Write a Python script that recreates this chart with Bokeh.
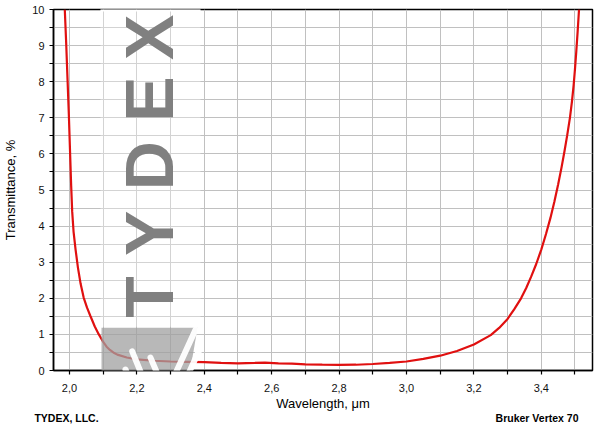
from bokeh.plotting import figure
from bokeh.models import (FixedTicker, CustomJSTickFormatter, Label, BoxAnnotation,
                          PolyAnnotation, Arrow, Range1d, LinearAxis)
from bokeh.embed import file_html
from bokeh.resources import INLINE
import math

# ---------------- data ----------------
wavelength_um = [1.986, 1.990, 1.994, 1.998, 2.002, 2.005, 2.008, 2.012, 2.018, 2.025,
                 2.033, 2.042, 2.052, 2.062, 2.075, 2.087, 2.100, 2.110, 2.120, 2.130,
                 2.142, 2.170, 2.200, 2.250, 2.300, 2.350, 2.400, 2.450, 2.500, 2.550,
                 2.580, 2.620, 2.660, 2.700, 2.750, 2.800, 2.850, 2.900, 2.950, 3.000,
                 3.050, 3.100, 3.150, 3.200, 3.250, 3.275, 3.300, 3.320, 3.340, 3.355,
                 3.370, 3.385, 3.400, 3.414, 3.427, 3.439, 3.450, 3.460, 3.469, 3.477,
                 3.485, 3.491, 3.496, 3.500, 3.504, 3.508, 3.512]
transmittance = [10.0, 9.1, 8.1, 7.1, 5.95, 5.1, 4.4, 3.85, 3.35, 2.85,
                 2.40, 2.02, 1.74, 1.51, 1.22, 1.00, 0.79, 0.66, 0.57, 0.50,
                 0.44, 0.36, 0.31, 0.27, 0.25, 0.24, 0.23, 0.21, 0.20, 0.21,
                 0.22, 0.20, 0.19, 0.17, 0.16, 0.155, 0.16, 0.18, 0.21, 0.25,
                 0.32, 0.41, 0.54, 0.72, 0.98, 1.18, 1.43, 1.70, 2.00, 2.28,
                 2.60, 2.95, 3.35, 3.78, 4.22, 4.68, 5.15, 5.62, 6.08, 6.52,
                 7.00, 7.45, 7.90, 8.35, 8.85, 9.40, 10.0]
x_major_ticks = [2.0, 2.2, 2.4, 2.6, 2.8, 3.0, 3.2, 3.4]
x_minor_ticks = [2.1, 2.3, 2.5, 2.7, 2.9, 3.1, 3.3, 3.5]
y_major_ticks = [0, 1, 2, 3, 4, 5, 6, 7, 8, 9, 10]
y_minor_ticks = [0.5, 1.5, 2.5, 3.5, 4.5, 5.5, 6.5, 7.5, 8.5, 9.5]
x_label = "Wavelength, \u03bcm"
y_label = "Transmittance, %"
notes = ["TYDEX, LLC.", "Bruker Vertex 70"]
note_centers_um = [1.991, 3.3875]
watermark = "TYDEX"

FONT = "Liberation Sans"
X0, X1 = 1.9525, 3.552
Y0, Y1 = 0.0, 10.0

W, H = 600, 426
BL, BR, BT, BB = 53, 8, 9, 54

p = figure(width=W, height=H, output_backend="svg", toolbar_location=None,
           x_range=Range1d(X0, X1), y_range=Range1d(Y0, Y1),
           min_border_left=BL, min_border_right=BR, min_border_top=BT, min_border_bottom=BB)
p.background_fill_color = "white"
p.border_fill_color = "white"
p.outline_line_color = "black"
p.outline_line_width = 1.5

# helpers: reference-pixel -> data coords, for decorative overlays only
fw = W - BL - BR
fh = H - BT - BB
def dx(px):
    return X0 + (px - BL) * (X1 - X0) / fw
def dy(py):
    return Y1 - (py - BT) * (Y1 - Y0) / fh

# axes
for ax in (p.xaxis[0], p.yaxis[0]):
    ax.axis_line_color = "black"
    ax.axis_line_width = 1.5
    ax.major_tick_line_color = "black"
    ax.minor_tick_line_color = "black"
    ax.major_tick_line_width = 1.2
    ax.minor_tick_line_width = 1.2
    ax.major_tick_in = 0
    ax.minor_tick_in = 0
    ax.major_tick_out = 4
    ax.minor_tick_out = 4
    ax.major_label_text_font = FONT
    ax.major_label_text_font_size = "11px"
    ax.major_label_text_color = "#111111"
    ax.axis_label_text_font = FONT
    ax.axis_label_text_font_style = "normal"
    ax.axis_label_text_font_size = "13px"
    ax.axis_label_text_color = "black"

p.xaxis.ticker = FixedTicker(ticks=x_major_ticks, minor_ticks=x_minor_ticks)
p.yaxis.ticker = FixedTicker(ticks=y_major_ticks, minor_ticks=y_minor_ticks)
p.xaxis.formatter = CustomJSTickFormatter(code="return tick.toFixed(1).replace('.', ',');")
p.xaxis.axis_label = x_label
p.yaxis.axis_label = y_label
p.xaxis.major_label_standoff = 9
p.xaxis.axis_label_standoff = 1
p.yaxis.major_label_standoff = 5
p.yaxis.axis_label_standoff = 11

# second (label-only) axis below, carrying the two footer notes
notes_axis = LinearAxis(ticker=FixedTicker(ticks=note_centers_um, minor_ticks=[]),
                        formatter=CustomJSTickFormatter(args=dict(labels=notes),
                                                        code="return labels[index];"),
                        axis_line_color=None, major_tick_line_color=None,
                        minor_tick_line_color=None, major_tick_out=0, major_tick_in=0,
                        major_label_standoff=-2,
                        major_label_text_font=FONT, major_label_text_font_style="bold",
                        major_label_text_font_size="10.5px", major_label_text_color="black")
p.add_layout(notes_axis, "below")

for g in (p.xgrid[0], p.ygrid[0]):
    g.grid_line_color = "#c0c0c0"
    g.grid_line_width = 1
    g.minor_grid_line_color = "#c0c0c0"
    g.minor_grid_line_width = 1

# curve
p.line(wavelength_um, transmittance, line_color="#e01010", line_width=2.2)

# ---------------- watermark ----------------
p.add_layout(BoxAnnotation(left=dx(100), right=dx(200), top=dy(0), bottom=dy(328),
                           fill_color="white", fill_alpha=0.3, line_alpha=0))
p.add_layout(BoxAnnotation(left=dx(100), right=dx(200), top=dy(0), bottom=dy(11),
                           fill_color="white", fill_alpha=1.0, line_alpha=0))
letter_y = [298, 234, 166, 99, 37]
for ch, ly in zip(watermark, letter_y):
    p.add_layout(Label(x=dx(148.5), y=dy(ly), text=ch, angle=math.pi / 2,
                       text_align="center", text_baseline="middle",
                       text_font=FONT, text_font_style="bold",
                       text_font_size="68px", text_color="#808080"))

p.add_layout(PolyAnnotation(xs=[dx(101), dx(197), dx(180), dx(101)],
                            ys=[dy(329), dy(329), dy(430), dy(430)],
                            fill_color="#a0a0a0", fill_alpha=0.75, line_alpha=0,
                            level="overlay"))
strokes = [((195, 331), (150, 430)), ((200, 349), (163, 430)), ((200, 376), (176, 430)),
           ((131.7, 352.7), (163, 430)), ((125, 371), (151, 430)), ((150, 359), (180, 430))]
for (a, b) in strokes:
    p.add_layout(Arrow(x_start=dx(a[0]), y_start=dy(a[1]), x_end=dx(b[0]), y_end=dy(b[1]),
                       end=None, line_color="white", line_width=6, line_cap="round",
                       line_alpha=0.95, level="overlay"))

open("out.html", "w").write(file_html(p, INLINE))
